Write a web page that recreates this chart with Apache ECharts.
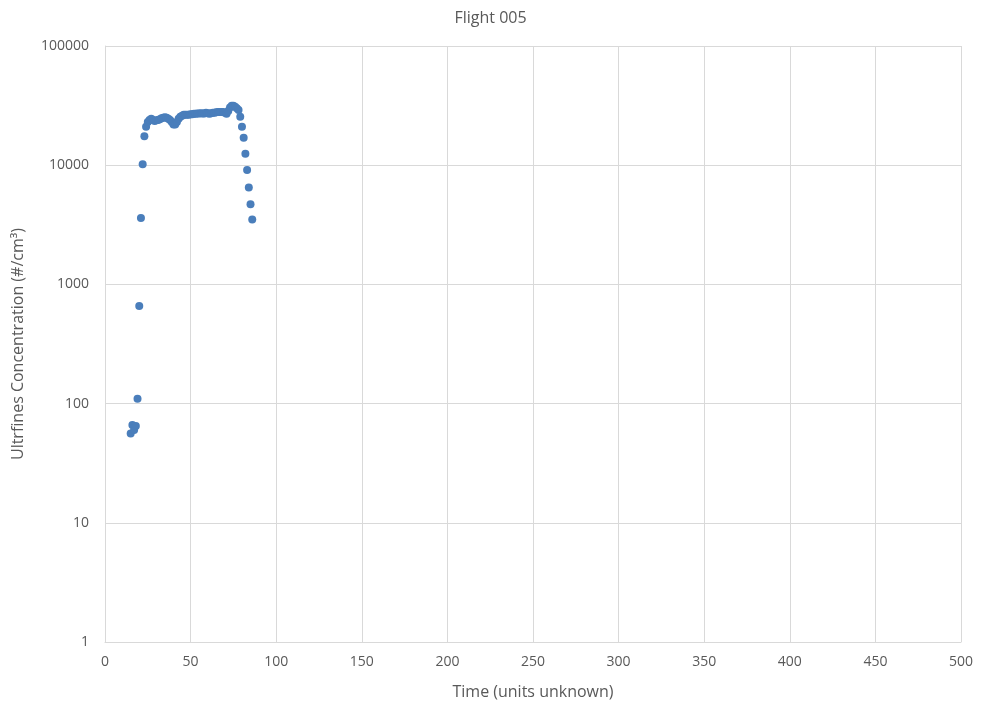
<!DOCTYPE html>
<html>
<head>
<meta charset="utf-8">
<script src="https://cdn.jsdelivr.net/npm/echarts@6/dist/echarts.min.js"></script>
<style>html,body{margin:0;padding:0;background:#fff}#c{width:981px;height:711px}</style>
</head>
<body>
<div id="c"></div>
<script>
const times = [15,16,17,18,19,20,21,22,23,24,25,26,27,28,29,30,31,32,33,34,35,36,37,38,39,40,41,42,43,44,45,46,47,48,49,50,51,52,53,54,55,56,57,58,59,60,61,62,63,64,65,66,67,68,69,70,71,72,73,74,75,76,77,78,79,80,81,82,83,84,85,86];
const concentration = [56,66,60,65,110,660,3600,10200,17500,21000,23000,24000,24500,24000,23500,23800,24000,24300,24800,25000,25200,25000,24500,24000,23000,22000,22000,23000,24500,25500,26000,26500,26500,26500,26500,26800,26800,27000,27000,27200,27200,27300,27200,27200,27500,27300,27000,27300,27500,27500,27800,28000,28000,28000,28000,27500,27000,28500,30500,31500,31500,31000,30000,29000,25500,21000,17000,12500,9100,6500,4700,3500];
const chartTitle = 'Flight 005';
const xName = 'Time (units unknown)';
const yName = 'Ultrfines Concentration (#/cm³)';

const font = 'Open Sans, Liberation Sans, sans-serif';
const chart = echarts.init(document.getElementById('c'), null, {renderer: 'canvas'});
chart.setOption({
  animation: false,
  backgroundColor: '#fff',
  title: {text: chartTitle, left: 'center', top: 5, textStyle: {fontFamily: font, fontSize: 16, fontWeight: 'normal', color: '#595959'}},
  grid: {left: 105, right: 20, top: 46, bottom: 69, containLabel: false},
  xAxis: {
    type: 'value', min: 0, max: 500, interval: 50,
    name: xName, nameLocation: 'middle', nameGap: 42,
    nameTextStyle: {fontFamily: font, fontSize: 16, color: '#595959'},
    axisLine: {show: true, lineStyle: {color: '#d9d9d9'}},
    axisTick: {show: false},
    axisLabel: {fontFamily: font, fontSize: 14, color: '#595959', margin: 13},
    splitLine: {show: true, lineStyle: {color: '#d9d9d9'}}
  },
  yAxis: {
    type: 'log', logBase: 10, min: 1, max: 100000,
    name: yName, nameLocation: 'middle', nameGap: 79,
    nameTextStyle: {fontFamily: font, fontSize: 16, color: '#595959'},
    axisLine: {show: true, lineStyle: {color: '#d9d9d9'}},
    axisTick: {show: false},
    axisLabel: {fontFamily: font, fontSize: 14, color: '#595959', margin: 16, formatter: v => String(Math.round(v))},
    splitLine: {show: true, lineStyle: {color: '#d9d9d9'}}
  },
  series: [{
    type: 'scatter',
    data: times.map((t, i) => [t, concentration[i]]),
    symbol: 'circle', symbolSize: 8,
    itemStyle: {color: '#4a7ebb', opacity: 1}
  }]
});
</script>
</body>
</html>
